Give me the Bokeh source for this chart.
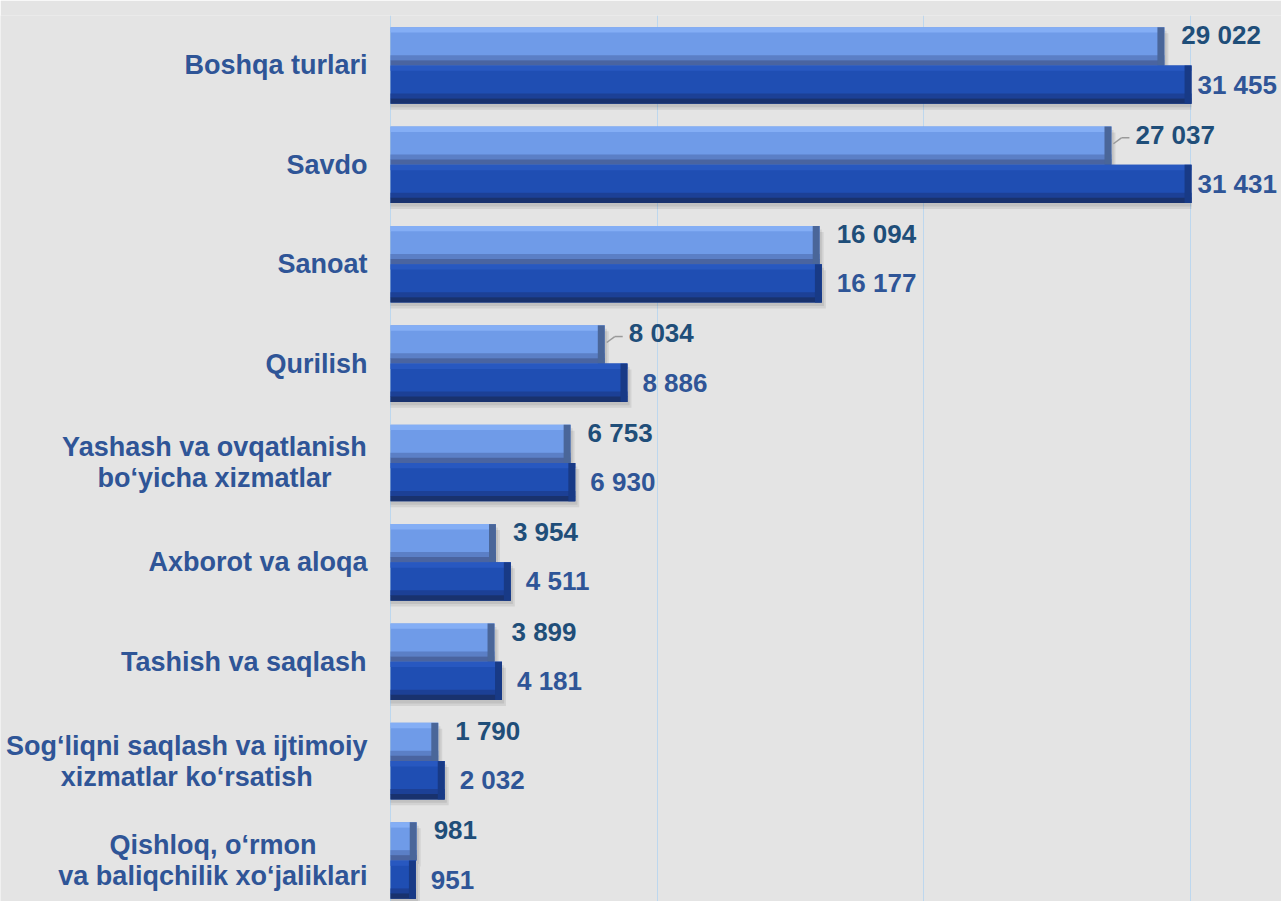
import numpy as np
from bokeh.plotting import figure
from bokeh.models import ColumnDataSource, LabelSet, FixedTicker, Range1d
from bokeh.core.properties import value
from bokeh.embed import file_html
from bokeh.resources import INLINE

# ---- data (top to bottom as in the chart) ----
categories = [
    ["Boshqa turlari"],
    ["Savdo"],
    ["Sanoat"],
    ["Qurilish"],
    ["Yashash va ovqatlanish", "bo\u2018yicha xizmatlar"],
    ["Axborot va aloqa"],
    ["Tashish va saqlash"],
    ["Sog\u2018liqni saqlash va ijtimoiy", "xizmatlar ko\u2018rsatish"],
    ["Qishloq, o\u2018rmon", "va baliqchilik xo\u2018jaliklari"],
]
series_prev = [29022, 27037, 16094, 8034, 6753, 3954, 3899, 1790, 981]
series_curr = [31455, 31431, 16177, 8886, 6930, 4511, 4181, 2032, 951]
label_prev = ["29 022", "27 037", "16 094", "8 034", "6 753", "3 954", "3 899", "1 790", "981"]
label_curr = ["31 455", "31 431", "16 177", "8 886", "6 930", "4 511", "4 181", "2 032", "951"]
prev_has_leader = [False, True, False, True, False, False, False, False, False]
grid_ticks = [0, 10000, 20000, 30000]

X_MAX = 30040          # visible end of the value axis (bars clipped there)
PX_PER_UNIT = 801 / X_MAX
LEFT_PX = 390
W, H = 1281, 901
n = len(categories)
pos = np.arange(n)[::-1].astype(float)  # top category at highest y

BAR_H = 0.385
OFF = BAR_H / 2
CAT_PX = 27
VAL_PX = 26
FONT = value("Liberation Sans")

# Liberation Sans Bold (Arial Bold metric) advance widths, per 1000 em
AW = {" ": 278, ",": 278, "\u2018": 278, "A": 722, "B": 722, "Q": 778, "S": 667,
      "T": 611, "Y": 667, "a": 556, "b": 611, "c": 556, "d": 611, "e": 556,
      "f": 333, "g": 611, "h": 611, "i": 278, "j": 278, "k": 556, "l": 278,
      "m": 889, "n": 611, "o": 611, "p": 611, "q": 611, "r": 389, "s": 556,
      "t": 333, "u": 611, "v": 556, "w": 778, "x": 556, "y": 556, "z": 500}

def text_w(s):
    return sum(AW.get(ch, 556) for ch in s) / 1000 * CAT_PX

x_start = -LEFT_PX / PX_PER_UNIT
x_end = (W - LEFT_PX) / PX_PER_UNIT

p = figure(width=W, height=H, output_backend="svg", toolbar_location=None,
           x_range=Range1d(x_start, x_end), y_range=Range1d(-0.4126, 8.503),
           min_border_left=0, min_border_right=0, min_border_top=15,
           min_border_bottom=0)
p.background_fill_color = "#E4E4E4"
p.border_fill_color = "#E4E4E4"
p.outline_line_color = None
p.xaxis.visible = False
p.yaxis.visible = False
p.ygrid.visible = False
p.xgrid.ticker = FixedTicker(ticks=grid_ticks)
p.xgrid.grid_line_color = "#BDD7EE"
p.xgrid.grid_line_width = 1


def bar_set(vals, yc, main, top, bottom, bottom2, edge):
    vals = np.minimum(np.asarray(vals, dtype=float), X_MAX)
    # soft shadow
    p.hbar(y=yc - 0.06, right=np.minimum(vals + 150, X_MAX), left=0, height=BAR_H,
           fill_color="#000000", fill_alpha=0.08, line_color=None)
    p.hbar(y=yc - 0.035, right=np.minimum(vals + 80, X_MAX), left=0, height=BAR_H,
           fill_color="#000000", fill_alpha=0.08, line_color=None)
    p.hbar(y=yc, right=vals, left=0, height=BAR_H, fill_color=main, line_color=None)
    p.hbar(y=yc + BAR_H * 0.43, right=vals, left=0, height=BAR_H * 0.14,
           fill_color=top, line_color=None)
    p.hbar(y=yc - BAR_H * 0.30, right=vals, left=0, height=BAR_H * 0.14,
           fill_color=bottom, line_color=None)
    p.hbar(y=yc - BAR_H * 0.43, right=vals, left=0, height=BAR_H * 0.14,
           fill_color=bottom2, line_color=None)
    p.hbar(y=yc, right=vals, left=np.maximum(vals - 260, 0), height=BAR_H,
           fill_color=edge, line_color=None)


bar_set(series_prev, pos + OFF, "#6F9BE8", "#84AEF5", "#5B7FC6", "#4A64A0", "#4A6699")
bar_set(series_curr, pos - OFF, "#1F4EB3", "#2858C0", "#1C4096", "#19326E", "#183A86")

# leader lines for the moved labels
lead = np.array(prev_has_leader)
vp = np.asarray(series_prev, float)[lead]
yp = (pos + OFF)[lead]
p.segment(x0=vp + 2 / PX_PER_UNIT, y0=yp + 0.02, x1=vp + 10 / PX_PER_UNIT, y1=yp + 0.08,
          line_color="#9A9A9A", line_width=1.5)
p.segment(x0=vp + 10 / PX_PER_UNIT, y0=yp + 0.08, x1=vp + 18 / PX_PER_UNIT, y1=yp + 0.08,
          line_color="#9A9A9A", line_width=1.5)

# category labels (centred block, right edge ~24 px left of the axis)
LINE_SP = 31 / 99.375
for yc, lines in zip(pos, categories):
    wmax = max(text_w(s) for s in lines)
    k = len(lines)
    ys = [yc + (k - 1) / 2 * LINE_SP - i * LINE_SP for i in range(k)]
    p.text(x=[0] * k, y=ys, text=lines, x_offset=-23 - wmax / 2,
           text_font=FONT, text_font_style="bold", text_font_size=f"{CAT_PX}px",
           text_color="#2F5597", text_align="center", text_baseline="middle")

# value labels
lx_prev = np.minimum(np.asarray(series_prev, float), X_MAX - 340) + lead * (7 / PX_PER_UNIT)
lx_curr = np.minimum(np.asarray(series_curr, float), X_MAX - 340)
src_lp = ColumnDataSource(dict(x=lx_prev, y=pos + OFF, t=label_prev))
src_lc = ColumnDataSource(dict(x=lx_curr, y=pos - OFF, t=label_curr))
p.add_layout(LabelSet(x="x", y="y", text="t", source=src_lp, x_offset=17, y_offset=11,
                      text_font=FONT, text_font_style="bold", text_font_size=f"{VAL_PX}px",
                      text_color="#1F4E79", text_baseline="middle", text_align="left"))
p.add_layout(LabelSet(x="x", y="y", text="t", source=src_lc, x_offset=15, y_offset=0,
                      text_font=FONT, text_font_style="bold", text_font_size=f"{VAL_PX}px",
                      text_color="#2F5597", text_baseline="middle", text_align="left"))

open("out.html", "w").write(file_html(p, INLINE))
